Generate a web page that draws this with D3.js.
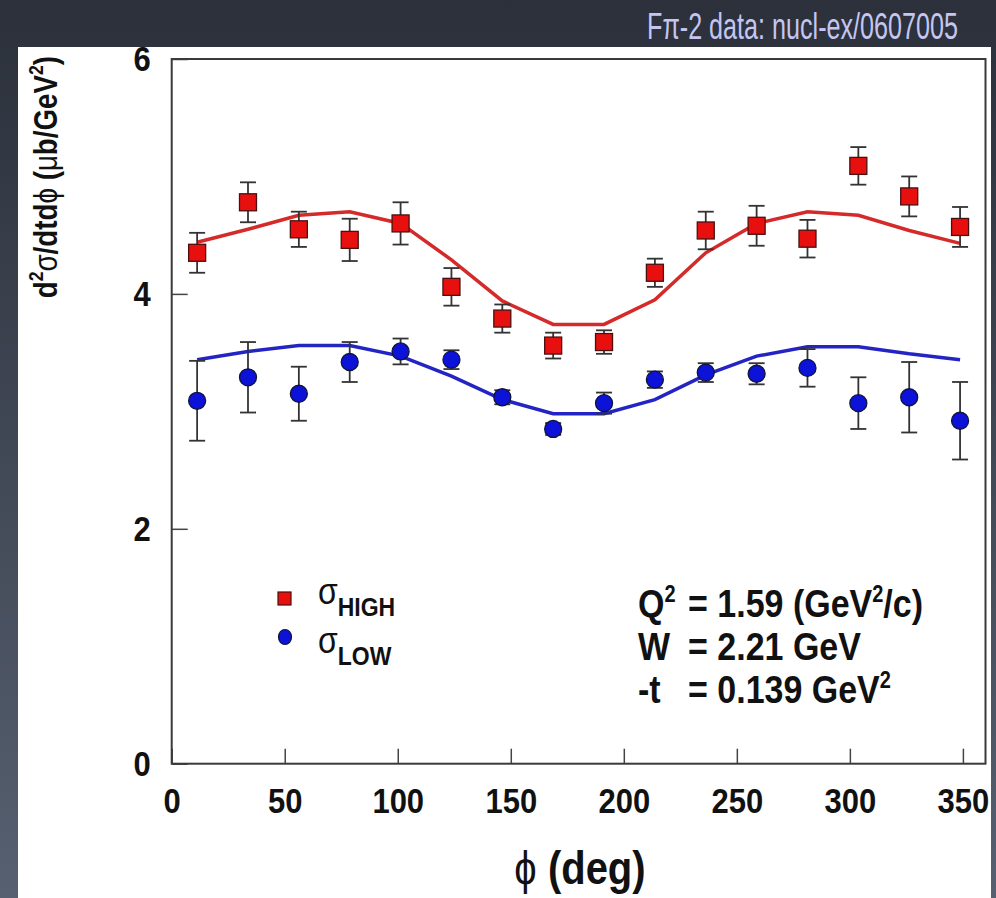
<!DOCTYPE html>
<html>
<head>
<meta charset="utf-8">
<script src="https://cdn.jsdelivr.net/npm/d3@7"></script>
<style>
  html, body { margin: 0; padding: 0; background: #3a404c; }
  svg { display: block; }
  text { font-family: "Liberation Sans", Arial, Helvetica, sans-serif; }
</style>
</head>
<body>
<svg id="chart" width="996" height="898"></svg>
<script>
// phi bins (deg)
const phiValues = [11.25, 33.75, 56.25, 78.75, 101.25, 123.75, 146.25, 168.75,
                   191.25, 213.75, 236.25, 258.75, 281.25, 303.75, 326.25, 348.75];

// sigma_HIGH data + errors
const highValues = [4.35, 4.78, 4.55, 4.46, 4.60, 4.06, 3.79, 3.56,
                    3.59, 4.18, 4.54, 4.58, 4.47, 5.09, 4.83, 4.57];
const highErrors = [0.17, 0.17, 0.15, 0.18, 0.18, 0.16, 0.12, 0.11,
                    0.10, 0.12, 0.16, 0.17, 0.16, 0.16, 0.17, 0.17];
// sigma_LOW data + errors
const lowValues = [3.09, 3.29, 3.15, 3.42, 3.51, 3.44, 3.12, 2.85,
                   3.07, 3.27, 3.33, 3.32, 3.37, 3.07, 3.12, 2.92];
const lowErrors = [0.34, 0.30, 0.23, 0.17, 0.11, 0.08, 0.06, 0.05,
                   0.09, 0.07, 0.08, 0.09, 0.16, 0.22, 0.30, 0.33];

// model curves
const highFit = [4.44, 4.55, 4.67, 4.70, 4.60, 4.29, 3.94, 3.74,
                 3.74, 3.95, 4.35, 4.60, 4.70, 4.67, 4.54, 4.43];
const lowFit = [3.44, 3.51, 3.56, 3.56, 3.47, 3.30, 3.10, 2.98,
                2.98, 3.10, 3.31, 3.47, 3.55, 3.55, 3.49, 3.44];

const xTicks = [0, 50, 100, 150, 200, 250, 300, 350];
const yTicks = [0, 2, 4, 6];

// the figure was pasted slightly stretched vertically
const STRETCH = 1.15;

const svg = d3.select('#chart');

// dark slide background
const defs = svg.append('defs');
const grad = defs.append('linearGradient')
  .attr('id', 'bg').attr('x1', 0).attr('y1', 0).attr('x2', 0).attr('y2', 1);
grad.append('stop').attr('offset', '0%').attr('stop-color', '#2b303a');
grad.append('stop').attr('offset', '100%').attr('stop-color', '#566070');
svg.append('rect').attr('width', 996).attr('height', 898).attr('fill', 'url(#bg)');

// title (condensed look via horizontal scale)
svg.append('text')
  .attr('transform', 'translate(958,39) scale(0.68,1)')
  .attr('text-anchor', 'end')
  .style('font-size', '37px')
  .style('fill', '#c4c6f2')
  .text('Fπ-2 data: nucl-ex/0607005');

// white figure panel
svg.append('rect')
  .attr('x', 18).attr('y', 47).attr('width', 973).attr('height', 860)
  .attr('fill', '#ffffff');

const x = d3.scaleLinear().domain([0, 360]).range([171.7, 985.5]);
const y = d3.scaleLinear().domain([0, 6]).range([763.7, 59]);

// axes (ticks point inward)
const xAxis = svg.append('g')
  .attr('transform', `translate(0,${y(0)})`)
  .call(d3.axisBottom(x).tickValues(xTicks).tickFormat(d3.format('d'))
    .tickSizeInner(-15).tickSizeOuter(0).tickPadding(21));
const yAxis = svg.append('g')
  .attr('transform', `translate(${x(0)},0)`)
  .call(d3.axisLeft(y).tickValues(yTicks).tickFormat(d3.format('d'))
    .tickSizeInner(-16).tickSizeOuter(0).tickPadding(21));

[xAxis, yAxis].forEach(a => {
  a.select('.domain').remove();
  a.selectAll('line').attr('stroke', '#444').attr('stroke-width', 1.5);
  a.selectAll('text')
    .attr('transform', `scale(1,${STRETCH})`)
    .style('font-size', '31px')
    .style('font-weight', 'bold')
    .style('fill', '#111');
});

// frame
svg.append('rect')
  .attr('x', x(0)).attr('y', y(6))
  .attr('width', x(360) - x(0)).attr('height', y(0) - y(6))
  .attr('fill', 'none').attr('stroke', '#3a3a3a').attr('stroke-width', 2);

// text helper: positioned group with vertical stretch
function stretched(tx, ty) {
  return svg.append('text')
    .attr('transform', `translate(${tx},${ty}) scale(1,${STRETCH})`)
    .style('fill', '#111');
}

// axis titles
const xt = stretched(580, 884)
  .attr('text-anchor', 'middle')
  .style('font-size', '40px')
  .style('font-weight', 'bold');
xt.append('tspan').style('font-weight', 'normal').text('ϕ');
xt.append('tspan').text(' (deg)');

const yt = svg.append('text')
  .attr('transform', 'translate(57,56) rotate(-90) scale(0.84,1)')
  .attr('text-anchor', 'end')
  .style('font-size', '33px')
  .style('font-weight', 'bold')
  .style('fill', '#111');
yt.append('tspan').text('d');
yt.append('tspan').attr('dy', -14).style('font-size', '21px').text('2');
yt.append('tspan').attr('dy', 14).style('font-weight', 'normal').text('σ');
yt.append('tspan').text('/dtd');
yt.append('tspan').style('font-weight', 'normal').text('ϕ');
yt.append('tspan').text(' (');
yt.append('tspan').style('font-weight', 'normal').text('μ');
yt.append('tspan').text('b/GeV');
yt.append('tspan').attr('dy', -14).style('font-size', '21px').text('2');
yt.append('tspan').attr('dy', 14).text(')');

// model curves
const line = d3.line().x(d => x(d[0])).y(d => y(d[1]));
svg.append('path')
  .datum(phiValues.map((p, i) => [p, highFit[i]]))
  .attr('d', line).attr('fill', 'none')
  .attr('stroke', '#d42a2a').attr('stroke-width', 3.5);
svg.append('path')
  .datum(phiValues.map((p, i) => [p, lowFit[i]]))
  .attr('d', line).attr('fill', 'none')
  .attr('stroke', '#2424c4').attr('stroke-width', 3.5);

// error bars
function errorBars(vals, errs) {
  const g = svg.append('g').attr('stroke', '#333').attr('stroke-width', 1.8);
  phiValues.forEach((p, i) => {
    const cx = x(p), lo = y(vals[i] - errs[i]), hi = y(vals[i] + errs[i]);
    g.append('line').attr('x1', cx).attr('x2', cx).attr('y1', lo).attr('y2', hi);
    g.append('line').attr('x1', cx - 8).attr('x2', cx + 8).attr('y1', lo).attr('y2', lo);
    g.append('line').attr('x1', cx - 8).attr('x2', cx + 8).attr('y1', hi).attr('y2', hi);
  });
}
errorBars(highValues, highErrors);
errorBars(lowValues, lowErrors);

// markers
svg.append('g').selectAll('rect')
  .data(phiValues.map((p, i) => [p, highValues[i]]))
  .join('rect')
  .attr('x', d => x(d[0]) - 8.5).attr('y', d => y(d[1]) - 8.5)
  .attr('width', 17).attr('height', 17)
  .attr('fill', '#e8100e').attr('stroke', '#4a1010').attr('stroke-width', 1.3);
svg.append('g').selectAll('circle')
  .data(phiValues.map((p, i) => [p, lowValues[i]]))
  .join('circle')
  .attr('cx', d => x(d[0])).attr('cy', d => y(d[1])).attr('r', 8.5)
  .attr('fill', '#0c12d8').attr('stroke', '#10143a').attr('stroke-width', 1.3);

// legend
svg.append('rect').attr('x', 278).attr('y', 592).attr('width', 13).attr('height', 13)
  .attr('fill', '#e8100e').attr('stroke', '#4a1010').attr('stroke-width', 1.2);
svg.append('ellipse').attr('cx', 285).attr('cy', 637).attr('rx', 6.5).attr('ry', 7.5)
  .attr('fill', '#0c12d8').attr('stroke', '#10143a').attr('stroke-width', 1.2);

function sigmaLabel(ly, sub) {
  const t = stretched(318, ly).style('font-size', '32px');
  t.append('tspan').text('σ');
  t.append('tspan').attr('dy', 10).style('font-size', '23px').style('font-weight', 'bold').text(sub);
}
sigmaLabel(604, 'HIGH');
sigmaLabel(653, 'LOW');

// kinematics box
const kin = [
  { y: 617, pre: ['Q', '2'], rest: ['= 1.59 (GeV', '2', '/c)'] },
  { y: 660, pre: ['W'], rest: ['= 2.21 GeV'] },
  { y: 703, pre: ['-t'], rest: ['= 0.139 GeV', '2'] }
];
kin.forEach(k => {
  const t1 = stretched(638, k.y).style('font-size', '34px').style('font-weight', 'bold');
  t1.append('tspan').text(k.pre[0]);
  if (k.pre[1]) t1.append('tspan').attr('dy', -13).style('font-size', '20px').text(k.pre[1]);
  const t2 = stretched(688, k.y).style('font-size', '34px').style('font-weight', 'bold');
  k.rest.forEach((s, j) => {
    if (j % 2 === 1) t2.append('tspan').attr('dy', -13).style('font-size', '20px').text(s);
    else t2.append('tspan').attr('dy', j === 0 ? 0 : 13).text(s);
  });
});
</script>
</body>
</html>
